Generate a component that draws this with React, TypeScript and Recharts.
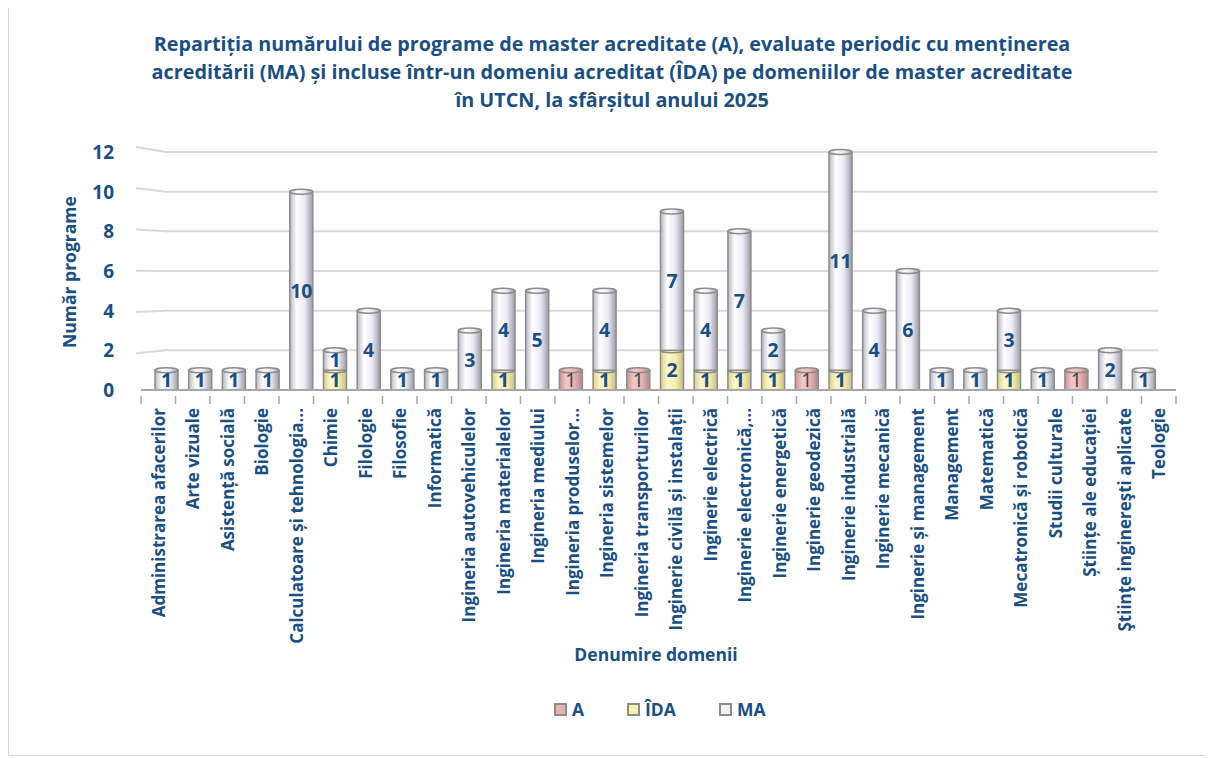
import React from 'react';
import { BarChart, Bar, XAxis, YAxis, CartesianGrid, LabelList } from 'recharts';

const categories = [
  'Administrarea afacerilor', 'Arte vizuale', 'Asistență socială', 'Biologie',
  'Calculatoare și tehnologia...', 'Chimie', 'Filologie', 'Filosofie', 'Informatică',
  'Ingineria autovehiculelor', 'Ingineria materialelor', 'Ingineria mediului',
  'Ingineria produselor...', 'Ingineria sistemelor', 'Ingineria transporturilor',
  'Inginerie civilă și instalații', 'Inginerie electrică', 'Inginerie electronică,...',
  'Inginerie energetică', 'Inginerie geodezică', 'Inginerie industrială',
  'Inginerie mecanică', 'Inginerie și management', 'Management', 'Matematică',
  'Mecatronică și robotică', 'Studii culturale', 'Științe ale educației',
  'Ştiinţe inginereşti aplicate', 'Teologie',
];
const seriesA = [0,0,0,0,0,0,0,0,0,0,0,0,1,0,1,0,0,0,0,1,0,0,0,0,0,0,0,1,0,0];
const seriesIDA = [0,0,0,0,0,1,0,0,0,0,1,0,0,1,0,2,1,1,1,0,1,0,0,0,0,1,0,0,0,0];
const seriesMA = [1,1,1,1,10,1,4,1,1,3,4,5,0,4,0,7,4,7,2,0,11,4,6,1,1,3,1,0,2,1];
const yTicks = [0, 2, 4, 6, 8, 10, 12];
const legendItems = ['A', 'ÎDA', 'MA'];
const legendColors = ['#E6B3B3', '#F9F1B2', '#F0F0F8'];

const data = categories.map((name, i) => ({
  name,
  A: seriesA[i] || null,
  IDA: seriesIDA[i] || null,
  MA: seriesMA[i] || null,
}));

const BLUE = '#1B4F82';
const FONT = '"Open Sans", "Noto Sans", sans-serif';

const Cylinder = (grad: string) => (props: any) => {
  const { x, y, width, height } = props;
  if (!height || height <= 0) return null;
  const ry = 2.5;
  return (
    <g>
      <rect x={x} y={y} width={width} height={height} fill={`url(#${grad})`} stroke="#8C8C8C" strokeWidth={1.5} />
      <ellipse cx={x + width / 2} cy={y} rx={width / 2} ry={ry} fill={`url(#${grad})`} stroke="#8C8C8C" strokeWidth={1.5} />
    </g>
  );
};

const XTick = (props: any) => {
  const { x, y, payload, index } = props;
  const half = 17.25;
  return (
    <g>
      <line x1={x - half} x2={x - half} y1={y - 2} y2={y + 6} stroke="#A6A6A6" strokeWidth={1.5} />
      {index === categories.length - 1 && (
        <line x1={x + half} x2={x + half} y1={y - 2} y2={y + 6} stroke="#A6A6A6" strokeWidth={1.5} />
      )}
      <text
        transform={`translate(${x + 6.5},${y + 10}) rotate(-90)`}
        textAnchor="end"
        fill={BLUE}
        fontFamily={FONT}
        fontWeight={700}
        fontSize={17}
      >
        {payload.value}
      </text>
    </g>
  );
};

const YTick = (props: any) => {
  const { y, payload } = props;
  return (
    <text x={105} y={y + 7} textAnchor="end" fill={BLUE} fontFamily={FONT} fontWeight={700} fontSize={19}>
      {payload.value}
    </text>
  );
};

const GridLine = (props: any) => {
  const { x1, x2, y1 } = props;
  const y = y1;
  const yFront = y + (y - 271) * 0.04;
  if (Math.abs(y - 382) < 3) return null;
  return (
    <path d={`M${x1 - 5},${yFront} L${x1 + 25},${y} L${x2 - 18},${y}`} fill="none" stroke="#D9D9D9" strokeWidth={2} />
  );
};

const fmt = (v: any) => (v ? v : '');

export default function App() {
  return (
    <div style={{ position: 'relative', width: 1206, height: 748, borderLeft: '1px solid #D9D9D9', borderBottom: '1px solid #D9D9D9', boxSizing: 'border-box', fontFamily: FONT }}>
      <div style={{ position: 'absolute', top: 22, left: 0, width: 1206, textAlign: 'center', color: BLUE, fontWeight: 700, fontSize: 19.8, lineHeight: '28px' }}>
        Repartiția numărului de programe de master acreditate (A), evaluate periodic cu menținerea<br />
        acreditării (MA) și incluse într-un domeniu acreditat (ÎDA) pe domeniilor de master acreditate<br />
        în UTCN, la sfârșitul anului 2025
      </div>
      <div style={{ position: 'absolute', left: 60 - 100, top: 252, width: 200, textAlign: 'center', transform: 'rotate(-90deg)', color: BLUE, fontWeight: 700, fontSize: 17.5 }}>
        Număr programe
      </div>
      <div style={{ position: 'absolute', left: 0, width: 1294, top: 634, textAlign: 'center', color: BLUE, fontWeight: 700, fontSize: 17.5 }}>
        Denumire domenii
      </div>
      {legendItems.map((l, i) => (
        <div key={l} style={{ position: 'absolute', top: 689, left: [545, 618, 710][i], display: 'flex', alignItems: 'center', color: BLUE, fontWeight: 700, fontSize: 17.5 }}>
          <span style={{ display: 'inline-block', width: 9, height: 9, background: legendColors[i], border: '2px solid #8C8C8C', marginRight: 5 }} />
          {l}
        </div>
      ))}
      <BarChart
        width={1206}
        height={748}
        data={data}
        margin={{ top: 144, right: 39, bottom: 0, left: 0 }}
        barSize={23}
        style={{ position: 'absolute', top: 0, left: 0 }}
      >
        <defs>
          <linearGradient id="gMA" x1="0" y1="0" x2="1" y2="0">
            <stop offset="0%" stopColor="#B8B8C4" />
            <stop offset="30%" stopColor="#FFFFFF" />
            <stop offset="65%" stopColor="#EAEAF4" />
            <stop offset="100%" stopColor="#9C9CA8" />
          </linearGradient>
          <linearGradient id="gIDA" x1="0" y1="0" x2="1" y2="0">
            <stop offset="0%" stopColor="#D8CF90" />
            <stop offset="30%" stopColor="#FDF8C8" />
            <stop offset="65%" stopColor="#F6EDB0" />
            <stop offset="100%" stopColor="#C9BF80" />
          </linearGradient>
          <linearGradient id="gA" x1="0" y1="0" x2="1" y2="0">
            <stop offset="0%" stopColor="#C99494" />
            <stop offset="30%" stopColor="#F2C8C8" />
            <stop offset="65%" stopColor="#E8B4B4" />
            <stop offset="100%" stopColor="#B88484" />
          </linearGradient>
        </defs>
        <CartesianGrid vertical={false} horizontal={(p: any) => <GridLine key={p.key ?? p.index} {...p} />} />
        <XAxis
          dataKey="name"
          interval={0}
          height={366}
          tick={<XTick />}
          tickLine={false}
          axisLine={{ stroke: '#A6A6A6', strokeWidth: 2 }}
        />
        <XAxis xAxisId={1} dataKey="name" hide padding={{ left: 9, right: 15 }} />
        <YAxis
          width={132}
          domain={[0, 12]}
          ticks={yTicks}
          tick={<YTick />}
          tickLine={false}
          axisLine={false}
        />
        <Bar dataKey="A" xAxisId={1} stackId="s" shape={Cylinder('gA')} isAnimationActive={false}>
          <LabelList dataKey="A" position="center" formatter={fmt} fill="#404040" fontSize={19.5} fontFamily={FONT} />
        </Bar>
        <Bar dataKey="IDA" xAxisId={1} stackId="s" shape={Cylinder('gIDA')} isAnimationActive={false}>
          <LabelList dataKey="IDA" position="center" formatter={fmt} fill={BLUE} fontSize={19.5} fontWeight={700} fontFamily={FONT} />
        </Bar>
        <Bar dataKey="MA" xAxisId={1} stackId="s" shape={Cylinder('gMA')} isAnimationActive={false}>
          <LabelList dataKey="MA" position="center" formatter={fmt} fill={BLUE} fontSize={19.5} fontWeight={700} fontFamily={FONT} />
        </Bar>
      </BarChart>
    </div>
  );
}
